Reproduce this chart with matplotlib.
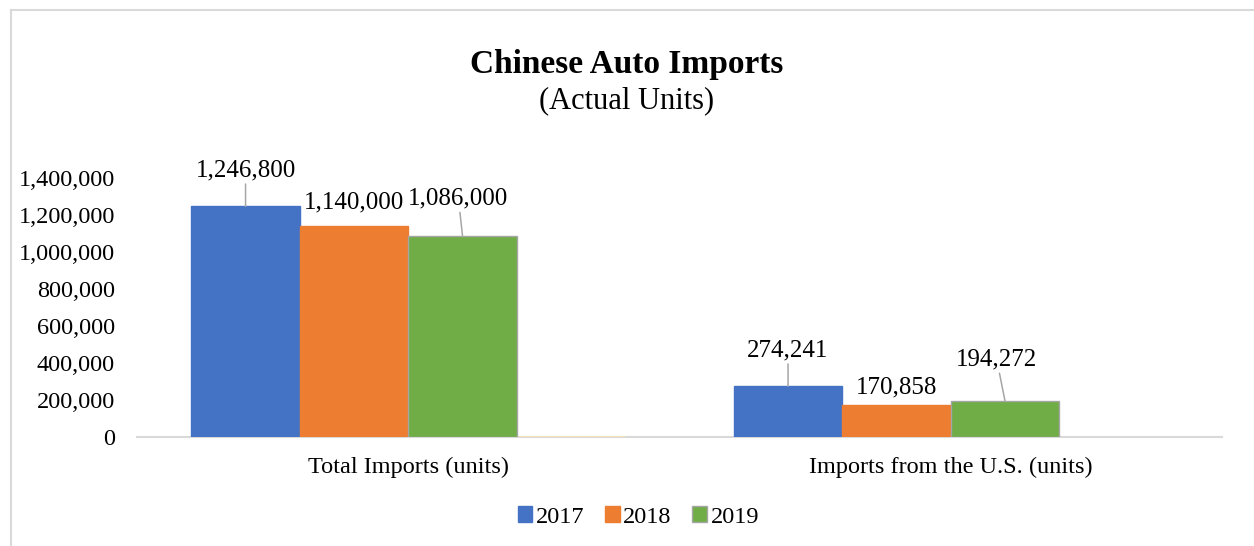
import numpy as np
import matplotlib.pyplot as plt
from matplotlib.lines import Line2D

plt.rcParams['font.family'] = ['Liberation Serif', 'DejaVu Serif']

# Chinese auto imports, actual units
categories = ['Total Imports (units)', 'Imports from the U.S. (units)']
years = ['2017', '2018', '2019']
imports_2017 = [1246800, 274241]
imports_2018 = [1140000, 170858]
imports_2019 = [1086000, 194272]
imports_extra = [0, np.nan]  # empty fourth series slot

series = [imports_2017, imports_2018, imports_2019]
colors = ['#4472C4', '#ED7D31', '#70AD47']
edges = ['#4472C4', '#ED7D31', '#A5A5A5']

# label offsets above bar tops (points) and horizontal nudges (points)
label_dy = [[26, 26], [17, 13], [27, 30]]
label_dx = [[0, 0], [0, 0], [-3, -6]]
leader = [[True, True], [False, False], [True, True]]

fig = plt.figure(figsize=(12.54, 5.46), dpi=100)
ax = fig.add_axes([0.1093, 0.1996, 0.8652, 0.4744])

x = np.arange(len(categories))
width = 0.2
offsets = [-0.3, -0.1, 0.1, 0.3]

for i, (vals, c, ec) in enumerate(zip(series, colors, edges)):
    bars = ax.bar(x + offsets[i], vals, width, color=c, edgecolor=ec,
                  linewidth=1.0, label=years[i], zorder=3)
    for j, b in enumerate(bars):
        v = vals[j]
        cx = b.get_x() + b.get_width() / 2
        arrow = dict(arrowstyle='-', color='#A6A6A6', lw=1.1,
                     shrinkA=0, shrinkB=0) if leader[i][j] else None
        ax.annotate(f'{v:,}', xy=(cx, v),
                    xytext=(label_dx[i][j], label_dy[i][j]),
                    textcoords='offset points', ha='center', va='center',
                    fontsize=18, color='#000000', arrowprops=arrow,
                    annotation_clip=False)

# the unused fourth slot shows only as a faint line on the baseline
ax.bar(x + offsets[3], imports_extra, width, color='#FFC000',
       edgecolor='#FBE5B0', linewidth=1.2, zorder=2)

ax.set_xlim(-0.5, 1.5)
ax.set_ylim(0, 1400000)
ax.set_yticks(np.arange(0, 1400001, 200000))
ax.yaxis.set_major_formatter(plt.FuncFormatter(lambda v, p: f'{int(v):,}'))
ax.set_xticks(x)
ax.set_xticklabels(categories)
ax.tick_params(axis='both', length=0, labelsize=17.5)
ax.tick_params(axis='y', pad=16)
ax.tick_params(axis='x', pad=14)

for s in ['top', 'right', 'left']:
    ax.spines[s].set_visible(False)
ax.spines['bottom'].set_color('#D9D9D9')
ax.spines['bottom'].set_linewidth(1.5)
ax.spines['bottom'].set_zorder(1)

fig.text(0.5, 0.882, 'Chinese Auto Imports', ha='center', va='center',
         fontsize=24, fontweight='bold')
fig.text(0.5, 0.815, '(Actual Units)', ha='center', va='center', fontsize=22)

ax.legend(loc='center', bbox_to_anchor=(0.509, 0.053),
          bbox_transform=fig.transFigure, ncol=3, frameon=False,
          fontsize=17.5, handlelength=0.6, handleheight=0.6,
          handletextpad=0.15, columnspacing=0.85)

# chart area border (top and left edges)
fig.add_artist(Line2D([0.0088, 0.0088], [0, 0.982], color='#D9D9D9', lw=1.5))
fig.add_artist(Line2D([0.0088, 1.0], [0.982, 0.982], color='#D9D9D9', lw=1.5))

fig.savefig('out.png', dpi=100, facecolor='white')
